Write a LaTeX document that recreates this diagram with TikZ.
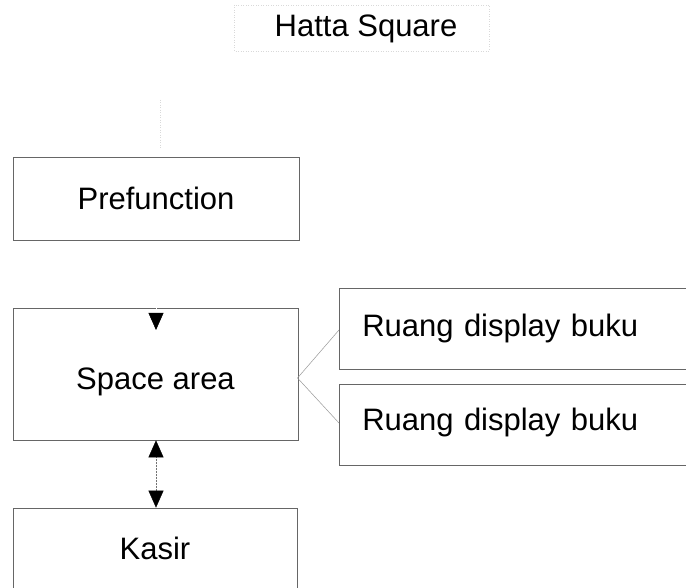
\documentclass[tikz,border=0pt]{standalone}
\usepackage{fontspec}
\setmainfont{Liberation Sans}
\usetikzlibrary{arrows.meta,calc}
\begin{document}
\begin{tikzpicture}[x=1pt,y=-1pt,
  box/.style={draw=black!60, line width=0.7pt, rectangle, inner sep=0pt, font=\fontsize{31}{36}\selectfont},
  rbox/.style={box, anchor=west, minimum height=81pt, inner xsep=23pt, text width=354pt, align=left},
  faint/.style={draw=black!15, dotted, line width=0.5pt},
  conn/.style={draw=black!55, line width=0.5pt},
  tip/.style={-{Triangle[width=15pt,length=17pt,color=black,fill=black]}},
  dtip/.style={{Triangle[width=15pt,length=17pt,color=black,fill=black]}-{Triangle[width=15pt,length=17pt,color=black,fill=black]}}
]
\useasboundingbox (0,0) rectangle (686,588);
\clip (0,0) rectangle (686,588);
\fill[white] (0,0) rectangle (686,588);

% title
\node[font=\fontsize{31}{36}\selectfont] (title) at (366,29) {Hatta Square};
\draw[faint] (234,5) rectangle (489,51);
\coordinate (fa) at (160,100);
\coordinate (fb) at (160,148);
\draw[faint] (fa) -- (fb);

% boxes
\node[box, minimum width=286pt, minimum height=83pt] (pre) at (156,198.5) {Prefunction};
\node[box, minimum width=285pt, minimum height=132pt, text height=36pt, text depth=6pt] (space) at (155.5,374) {Space area};
\node[box, minimum width=284pt, minimum height=80pt] (kasir) at (155,548) {Kasir};
\node[rbox] (r1) at (339,328.5) {Ruang display buku};
\node[rbox, text height=20pt, text depth=9pt] (r2) at (339,424.5) {Ruang display buku};

% connectors
\coordinate (ptip) at (156,330);
\draw[draw=white, line width=0.4pt, shorten <=2pt, tip] (pre.south -| ptip) -- (ptip);
\draw[conn, densely dotted, dtip] (space.south -| ptip) -- (kasir.north -| ptip);
\coordinate (sr) at (297.5,378);
\draw[conn, draw=black!40] (sr) -- (r1.west |- 0,330);
\draw[conn, draw=black!40] (sr) -- (r2.west |- 0,423);
\end{tikzpicture}
\end{document}
